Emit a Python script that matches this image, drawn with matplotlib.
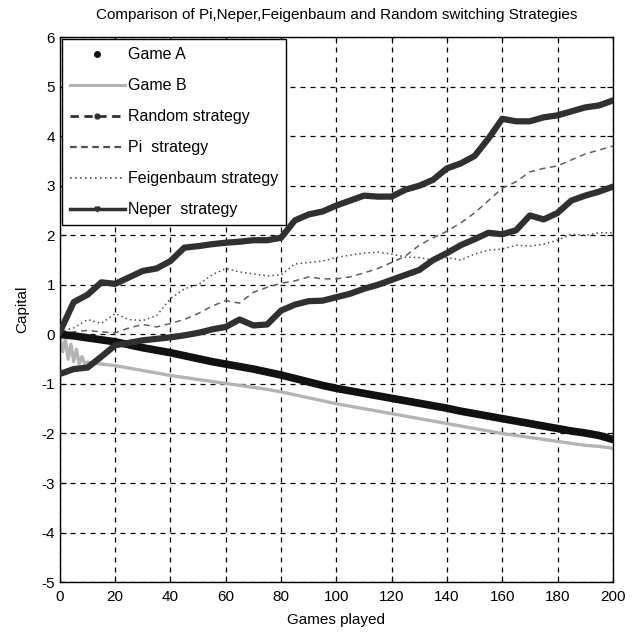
import matplotlib
matplotlib.use("Agg")
import matplotlib.pyplot as plt
from matplotlib.lines import Line2D

plt.rcParams['font.family'] = ['Liberation Sans', 'DejaVu Sans']
plt.rcParams['axes.unicode_minus'] = False

games = list(range(0, 201, 5))

game_a = [0.0, -0.03, -0.07, -0.11, -0.15, -0.21, -0.27, -0.32, -0.37, -0.43, -0.49,
          -0.55, -0.6, -0.65, -0.7, -0.76, -0.82, -0.89, -0.96, -1.03, -1.09,
          -1.14, -1.19, -1.24, -1.29, -1.34, -1.39, -1.44, -1.49, -1.55, -1.6,
          -1.65, -1.7, -1.75, -1.8, -1.85, -1.9, -1.95, -1.99, -2.04, -2.12]

games_b = [0, 1, 2, 3, 4, 5, 6, 7, 8, 9, 10] + list(range(15, 201, 5))
game_b = [0.0, -0.35, -0.1, -0.5, -0.2, -0.55, -0.3, -0.6, -0.45, -0.6, -0.56,
          -0.6, -0.63, -0.68, -0.73, -0.78, -0.83, -0.87, -0.91, -0.95, -0.99,
          -1.03, -1.07, -1.11, -1.16, -1.22, -1.28, -1.34, -1.4, -1.45, -1.5,
          -1.55, -1.6, -1.65, -1.7, -1.75, -1.8, -1.85, -1.9, -1.95, -2.0,
          -2.04, -2.08, -2.12, -2.16, -2.2, -2.24, -2.26, -2.3]

random_s = [-0.8, -0.7, -0.67, -0.45, -0.22, -0.17, -0.12, -0.09, -0.06, -0.02, 0.03,
            0.1, 0.15, 0.3, 0.18, 0.2, 0.48, 0.6, 0.67, 0.68, 0.75,
            0.82, 0.92, 1.0, 1.1, 1.2, 1.3, 1.5, 1.64, 1.8, 1.92,
            2.05, 2.02, 2.1, 2.4, 2.32, 2.45, 2.7, 2.8, 2.88, 2.98]

pi_s = [0.0, 0.05, 0.08, 0.05, 0.03, 0.13, 0.2, 0.15, 0.22, 0.3, 0.42,
        0.57, 0.68, 0.63, 0.85, 0.95, 1.03, 1.08, 1.16, 1.12, 1.12,
        1.16, 1.24, 1.33, 1.45, 1.58, 1.8, 1.95, 2.08, 2.25, 2.45,
        2.7, 2.95, 3.08, 3.28, 3.35, 3.4, 3.52, 3.64, 3.72, 3.8]

feig_s = [0.05, 0.13, 0.3, 0.22, 0.42, 0.3, 0.28, 0.38, 0.72, 0.92, 1.0,
          1.2, 1.33, 1.26, 1.22, 1.18, 1.2, 1.42, 1.45, 1.48, 1.55,
          1.6, 1.64, 1.66, 1.62, 1.56, 1.55, 1.5, 1.55, 1.5, 1.62,
          1.7, 1.72, 1.8, 1.78, 1.82, 1.9, 2.02, 2.0, 2.05, 2.05]

neper_s = [0.05, 0.65, 0.8, 1.05, 1.02, 1.15, 1.28, 1.33, 1.48, 1.75, 1.78,
           1.82, 1.85, 1.87, 1.9, 1.9, 1.95, 2.3, 2.42, 2.48, 2.6,
           2.7, 2.8, 2.78, 2.78, 2.92, 3.0, 3.12, 3.35, 3.45, 3.6,
           3.95, 4.35, 4.3, 4.3, 4.38, 4.42, 4.5, 4.58, 4.62, 4.72]

labels = ["Game A", "Game B", "Random strategy", "Pi  strategy",
          "Feigenbaum strategy", "Neper  strategy"]
x_ticks = list(range(0, 201, 20))
y_ticks = list(range(-5, 7))

fig = plt.figure(figsize=(6.37, 6.39), dpi=100)
ax = fig.add_axes([0.094, 0.089, 0.868, 0.853])

ax.plot(games_b, game_b, color='#b4b4b4', lw=2.4, zorder=2)
ax.plot(games, game_a, color='#111111', lw=5.5, zorder=3)
ax.plot(games, feig_s, color='#505050', lw=1.1, ls=(0, (1, 2)), zorder=2)
ax.plot(games, pi_s, color='#606060', lw=1.1, ls=(0, (4, 3)), zorder=2)
ax.plot(games, random_s, color='#303030', lw=4.5, zorder=3)
ax.plot(games, neper_s, color='#303030', lw=4.5, zorder=3)

ax.set_xlim(0, 200)
ax.set_ylim(-5, 6)
ax.set_xticks(x_ticks)
ax.set_yticks(y_ticks)
ax.tick_params(direction='in', labelsize=11, length=4, top=True, right=True)
ax.tick_params(axis='x', pad=6)
ax.grid(True, color='black', ls=(0, (4, 4)), lw=0.9)
for s in ax.spines.values():
    s.set_linewidth(1.0)

ax.set_title("Comparison of Pi,Neper,Feigenbaum and Random switching Strategies",
             fontsize=11, pad=13)
ax.set_xlabel("Games played", fontsize=11, labelpad=6)
ax.set_ylabel("Capital", fontsize=11, labelpad=9)

handles = [
    Line2D([], [], color='#111111', ls='none', marker='o', markersize=4),
    Line2D([], [], color='#b4b4b4', lw=2.2),
    Line2D([], [], color='#303030', lw=2.0, ls=(0, (3, 2)), marker='o', markersize=3.5),
    Line2D([], [], color='#505050', lw=1.6, ls=(0, (3, 2))),
    Line2D([], [], color='#505050', lw=1.2, ls=(0, (1, 2))),
    Line2D([], [], color='#303030', lw=2.5, marker='v', markersize=3.5),
]
leg = ax.legend(handles, labels, loc='upper left', fontsize=11.5, frameon=True,
                fancybox=False, edgecolor='black', framealpha=1,
                handlelength=3.4, handletextpad=0.2, borderpad=0.5,
                labelspacing=1.0, borderaxespad=0.15)
leg.get_frame().set_linewidth(1.0)
leg.set_zorder(5)

fig.savefig("out.png", dpi=100)
